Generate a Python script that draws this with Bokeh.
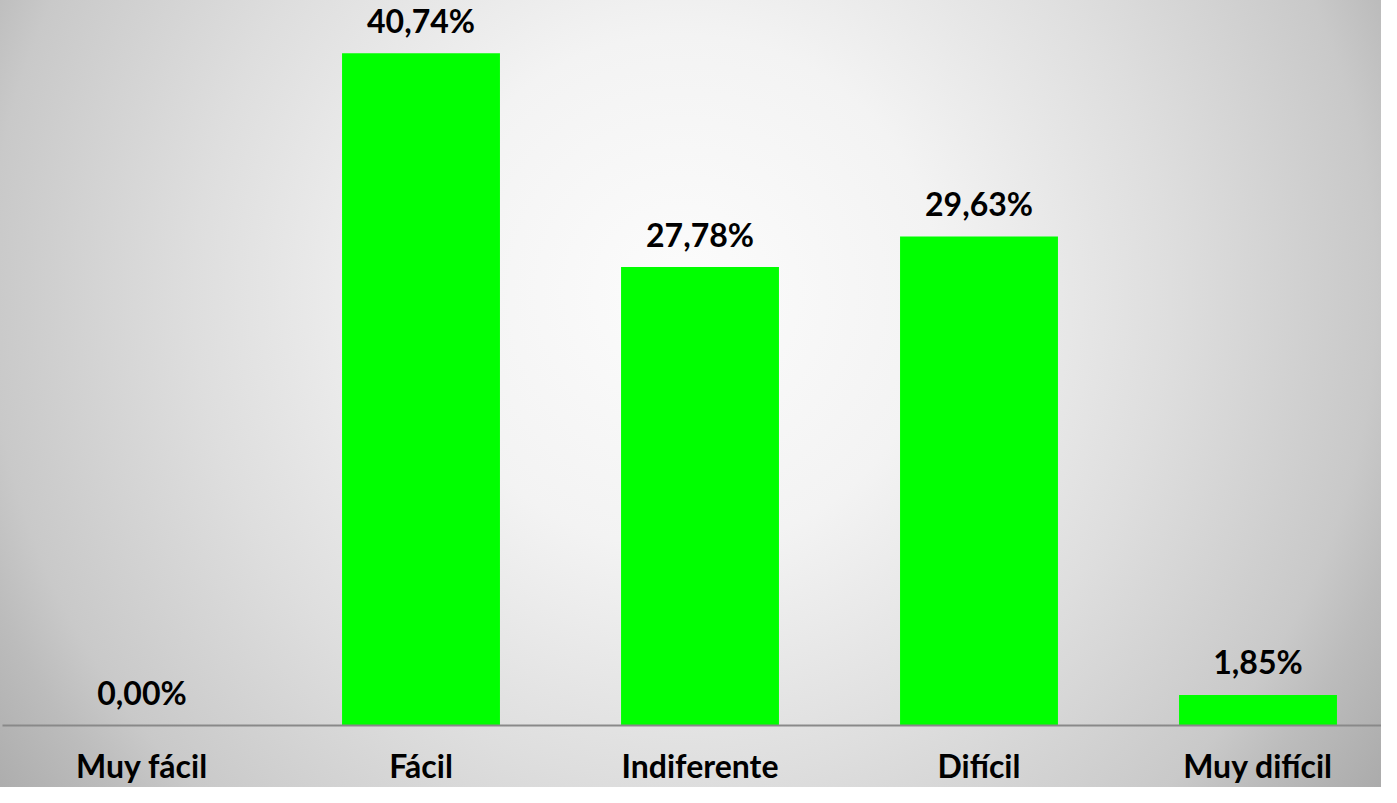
from bokeh.plotting import figure
from bokeh.models import Range1d, FixedTicker, ColumnDataSource
from bokeh.core.properties import value
from bokeh.embed import file_html
from bokeh.resources import INLINE

categories = ["Muy fácil", "Fácil", "Indiferente", "Difícil", "Muy difícil"]
percentages = [0.00, 40.74, 27.78, 29.63, 1.85]
value_labels = ["0,00%", "40,74%", "27,78%", "29,63%", "1,85%"]

positions = [i + 0.5 for i in range(len(categories))]

source = ColumnDataSource(dict(x=positions, top=percentages, label=value_labels))

FONT = "Lato"

p = figure(width=1381, height=787, output_backend="svg", toolbar_location=None,
           x_range=Range1d(0, 1379 / 279), y_range=Range1d(0, 728 / 16.57),
           min_border_left=2, min_border_right=0, min_border_top=0,
           min_border_bottom=59)

p.styles = {"background": "radial-gradient(circle farthest-corner at 49.4% 37.1%, "
                          "#fcfcfc 0%, #f3f3f3 30%, #dedede 57%, #c9c9c9 81%, "
                          "#bcbcbc 88%, #ababab 100%)"}
p.background_fill_alpha = 0
p.border_fill_alpha = 0
p.outline_line_color = None
p.xgrid.visible = False
p.ygrid.visible = False
p.yaxis.visible = False

p.vbar(x="x", top="top", bottom=0, width=0.566, source=source,
       fill_color="#00ff00", line_color=None)

p.text(x="x", y="top", text="label", source=source,
       text_align="center", text_baseline="middle", y_offset=-33,
       text_font=value(FONT), text_font_style="bold", text_font_size="32px",
       text_color="#000000")

xa = p.xaxis[0]
xa.ticker = FixedTicker(ticks=positions)
xa.major_label_overrides = {pos: cat for pos, cat in zip(positions, categories)}
xa.major_tick_line_color = None
xa.minor_tick_line_color = None
xa.major_tick_out = 0
xa.major_tick_in = 0
xa.axis_line_color = "#898989"
xa.axis_line_width = 2
xa.major_label_standoff = 20
xa.major_label_text_font = FONT
xa.major_label_text_font_style = "bold"
xa.major_label_text_font_size = "32px"
xa.major_label_text_color = "#000000"

open("out.html", "w").write(file_html(p, INLINE))
